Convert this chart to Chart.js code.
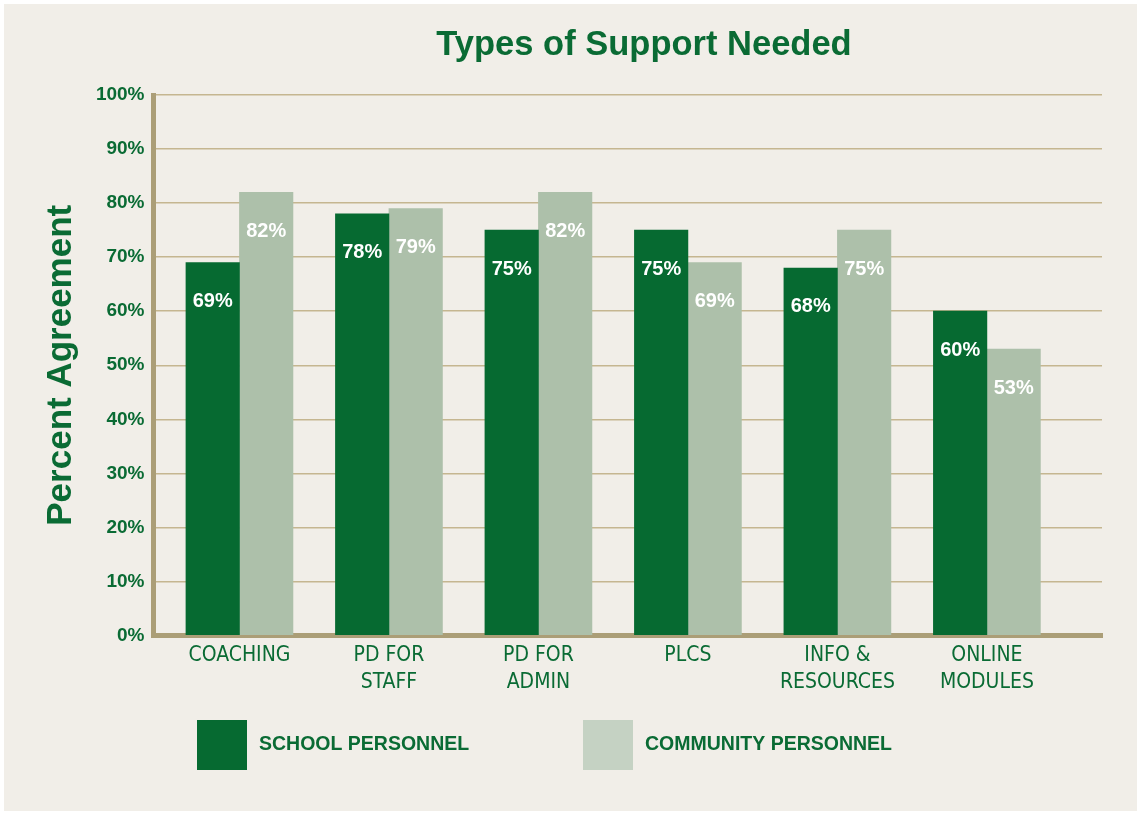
<!DOCTYPE html>
<html>
<head>
<meta charset="utf-8">
<title>Types of Support Needed</title>
<script src="https://cdn.jsdelivr.net/npm/chart.js@4.4.1/dist/chart.umd.min.js"></script>
<style>
  html, body { margin: 0; padding: 0; background: #ffffff; }
  #panel { position: absolute; left: 4px; top: 4px; width: 1133px; height: 807px; background: #f1eee8; }
  #chart { position: absolute; left: 0; top: 0; }
</style>
</head>
<body>
<div id="panel"></div>
<canvas id="chart" width="1140" height="813"></canvas>
<script>
// categories (multi-line tick labels) and the two series, in percent
const categories = [['COACHING'], ['PD FOR', 'STAFF'], ['PD FOR', 'ADMIN'], ['PLCS'], ['INFO &', 'RESOURCES'], ['ONLINE', 'MODULES']];
const schoolPersonnel = [69, 78, 75, 75, 68, 60];
const communityPersonnel = [82, 79, 82, 69, 75, 53];
const seriesNames = ['SCHOOL PERSONNEL', 'COMMUNITY PERSONNEL'];

const GREEN = '#066a31';
const SAGE = '#adc0aa';
const SAGE_KEY = '#c5d2c3';
const TEXT = '#0a6b34';
const GRID = '#c5b690';
const AXIS = '#ab9e77';
const SANS = '"Liberation Sans", Arial, sans-serif';
const NARROW = '"Liberation Sans Narrow", "DejaVu Sans Condensed", sans-serif';

// value labels, title and legend swatches
const decorations = {
  id: 'decorations',
  afterDatasetsDraw(chart) {
    const ctx = chart.ctx;
    ctx.save();
    ctx.font = 'bold 20px ' + SANS;
    ctx.fillStyle = '#ffffff';
    ctx.textAlign = 'center';
    ctx.textBaseline = 'middle';
    chart.data.datasets.forEach((ds, i) => {
      chart.getDatasetMeta(i).data.forEach((bar, j) => {
        ctx.fillText(ds.data[j].y + '%', bar.x, bar.y + 39);
      });
    });
    ctx.restore();
  },
  afterDraw(chart) {
    const ctx = chart.ctx;
    const area = chart.chartArea;
    ctx.save();
    ctx.fillStyle = TEXT;
    ctx.font = 'bold 34.5px ' + SANS;
    ctx.textAlign = 'center';
    ctx.textBaseline = 'alphabetic';
    ctx.fillText('Types of Support Needed', 644, 55);

    const keyColors = [GREEN, SAGE_KEY];
    const keyTop = area.bottom + 84.5;
    ctx.font = 'bold 19.5px ' + SANS;
    ctx.textAlign = 'left';
    ctx.textBaseline = 'middle';
    chart.data.datasets.forEach((ds, i) => {
      const x = area.left + 43.5 + i * 386;
      ctx.fillStyle = keyColors[i];
      ctx.fillRect(x, keyTop, 50, 50);
      ctx.fillStyle = TEXT;
      ctx.fillText(ds.label, x + 62, keyTop + 25);
    });
    ctx.restore();
  }
};

new Chart(document.getElementById('chart'), {
  type: 'bar',
  data: {
    datasets: [
      {
        label: seriesNames[0],
        data: schoolPersonnel.map((v, i) => ({ x: i, y: v })),
        backgroundColor: GREEN,
        barThickness: 53.5
      },
      {
        label: seriesNames[1],
        data: communityPersonnel.map((v, i) => ({ x: i, y: v })),
        backgroundColor: SAGE,
        barThickness: 53.5
      }
    ]
  },
  options: {
    responsive: false,
    animation: false,
    layout: { padding: { left: 25, right: 38, top: 95, bottom: 117.5 } },
    plugins: {
      legend: { display: false },
      title: { display: false },
      tooltip: { enabled: false }
    },
    scales: {
      x: {
        type: 'linear',
        min: -0.575,
        max: 5.77,
        offset: false,
        z: 1,
        afterBuildTicks(scale) {
          scale.ticks = categories.map((c, i) => ({ value: i }));
        },
        afterFit(scale) { scale.height = 60; },
        ticks: {
          autoSkip: false,
          maxRotation: 0,
          padding: 7,
          color: TEXT,
          font: { family: NARROW, size: 21, lineHeight: 27 / 21 },
          callback: v => categories[v]
        },
        grid: { display: false, drawTicks: false },
        border: { color: AXIS, width: 5 }
      },
      y: {
        min: 0,
        max: 100,
        afterFit(scale) { scale.width = 128.5; },
        ticks: {
          stepSize: 10,
          padding: 9,
          color: TEXT,
          font: { family: SANS, size: 19, weight: 'bold' },
          callback: v => v + '%'
        },
        grid: { color: GRID, lineWidth: 1.5, drawTicks: false },
        border: { color: AXIS, width: 5 },
        title: {
          display: true,
          text: 'Percent Agreement',
          color: TEXT,
          padding: { top: 18.5, bottom: 0 },
          font: { family: SANS, size: 35, weight: 'bold', lineHeight: 1 }
        }
      }
    }
  },
  plugins: [decorations]
});
</script>
</body>
</html>
